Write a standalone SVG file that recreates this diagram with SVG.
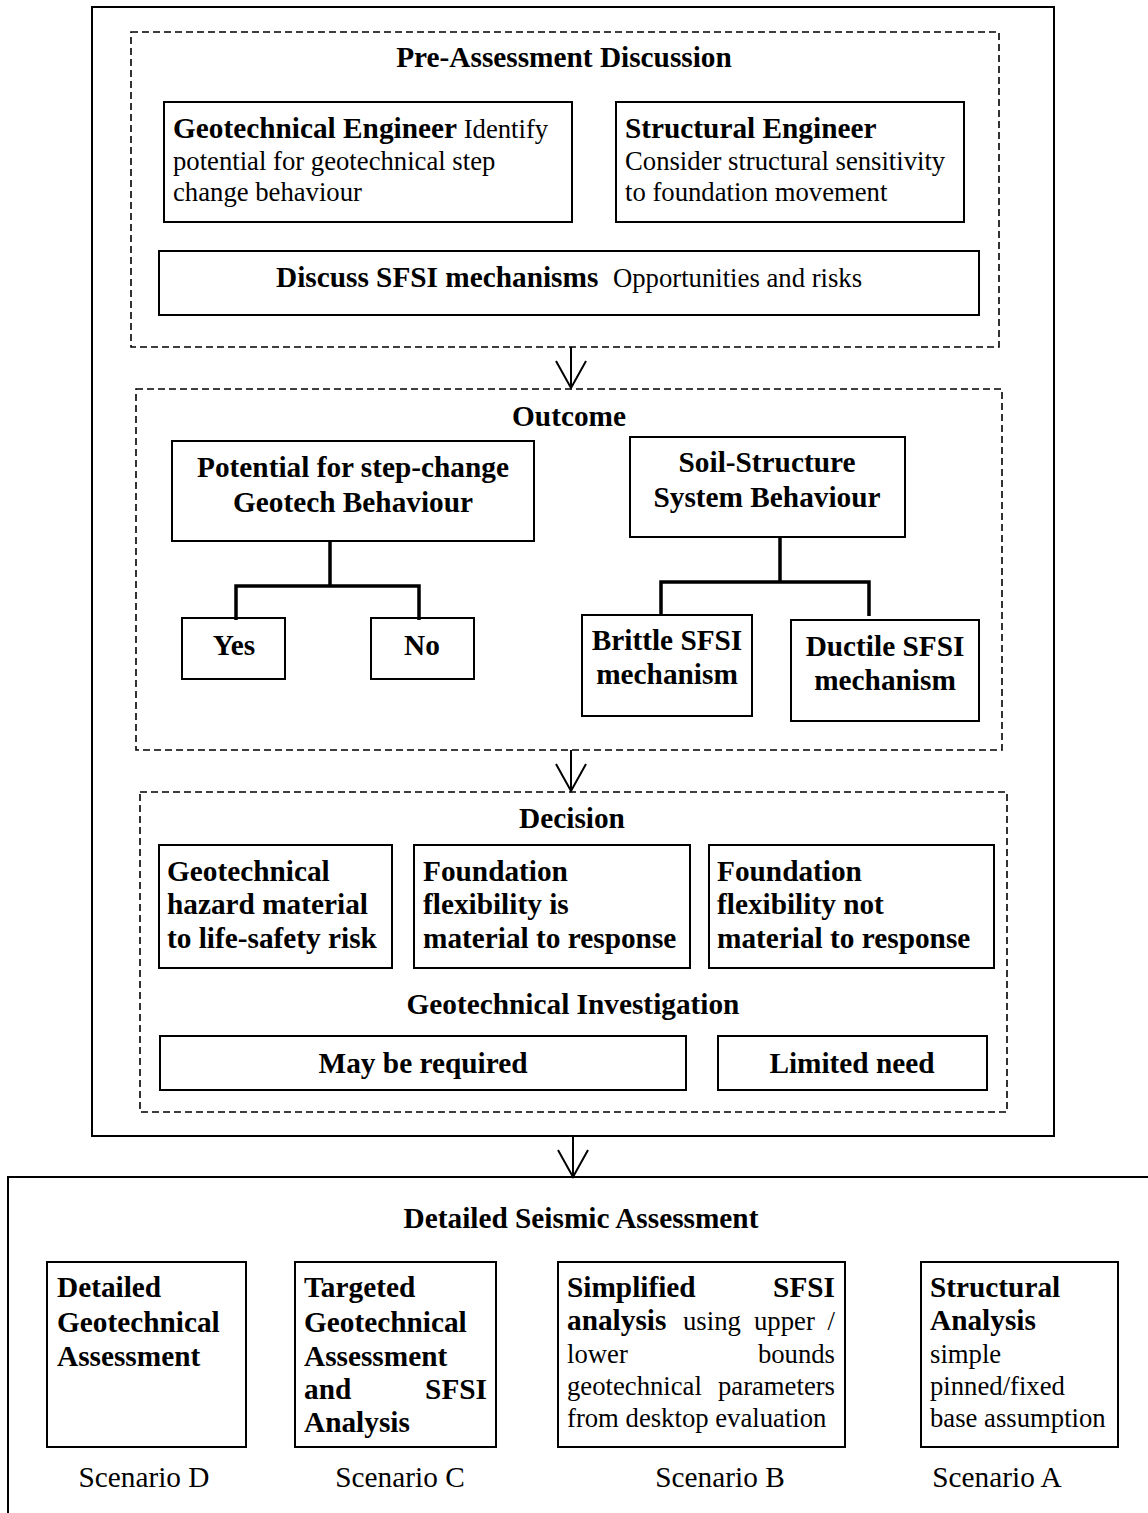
<svg xmlns="http://www.w3.org/2000/svg" width="1148" height="1513" viewBox="0 0 1148 1513">
<style>
text{font-family:"Liberation Serif","Times New Roman",serif;fill:#000}
.b{font-weight:bold;font-size:29.3px}
.r{font-weight:normal;font-size:26.7px}
.s{font-weight:normal;font-size:29.3px}
.c{text-anchor:middle}
.e{text-anchor:end}
.box{fill:#fff;stroke:#000;stroke-width:2}
.dash{fill:none;stroke:#000;stroke-width:1.6;stroke-dasharray:7 4}
.tree{fill:none;stroke:#000;stroke-width:3.5}
.arr{fill:none;stroke:#000;stroke-width:2}
</style>
<rect width="1148" height="1513" fill="#fff"/>
<g id="outer-frame"><rect x="92" y="7" width="962" height="1129" fill="none" stroke="#000" stroke-width="2"/></g>

<g id="pre-assessment">
<rect class="dash" x="131" y="32" width="868" height="315"/>
<text class="b c" x="564" y="67">Pre-Assessment Discussion</text>
</g>
<g id="geotech-engineer">
<rect class="box" x="164" y="102" width="408" height="120"/>
<text x="173" y="138"><tspan class="b">Geotechnical Engineer</tspan><tspan class="r"> Identify</tspan></text>
<text class="r" x="173" y="170">potential for geotechnical step</text>
<text class="r" x="173" y="201">change behaviour</text>
</g>
<g id="structural-engineer">
<rect class="box" x="616" y="102" width="348" height="120"/>
<text class="b" x="625" y="138">Structural Engineer</text>
<text class="r" x="625" y="170">Consider structural sensitivity</text>
<text class="r" x="625" y="201">to foundation movement</text>
</g>
<g id="discuss-sfsi">
<rect class="box" x="159" y="251" width="820" height="64"/>
<text x="276" y="287"><tspan class="b">Discuss SFSI mechanisms</tspan><tspan class="r" x="613">Opportunities and risks</tspan></text>
</g>

<g id="outcome">
<rect class="dash" x="136" y="389" width="866" height="361"/>
<text class="b c" x="569" y="426">Outcome</text>
</g>
<g id="potential-step-change">
<rect class="box" x="172" y="441" width="362" height="100"/>
<text class="b c" x="353" y="477">Potential for step-change</text>
<text class="b c" x="353" y="512">Geotech Behaviour</text>
</g>
<g id="yes"><rect class="box" x="182" y="618" width="103" height="61"/><text class="b c" x="234" y="655">Yes</text></g>
<g id="no"><rect class="box" x="371" y="618" width="103" height="61"/><text class="b c" x="422" y="655">No</text></g>
<g id="soil-structure">
<rect class="box" x="630" y="437" width="275" height="100"/>
<text class="b c" x="767" y="472">Soil-Structure</text>
<text class="b c" x="767" y="507">System Behaviour</text>
</g>
<g id="brittle"><rect class="box" x="582" y="615" width="170" height="101"/><text class="b c" x="667" y="650">Brittle SFSI</text><text class="b c" x="667" y="684">mechanism</text></g>
<g id="ductile"><rect class="box" x="791" y="620" width="188" height="101"/><text class="b c" x="885" y="656">Ductile SFSI</text><text class="b c" x="885" y="690">mechanism</text></g>

<g id="decision">
<rect class="dash" x="140" y="792" width="867" height="320"/>
<text class="b c" x="572" y="828">Decision</text>
<text class="b c" x="573" y="1014">Geotechnical Investigation</text>
</g>
<g id="geo-hazard"><rect class="box" x="159" y="845" width="233" height="123"/>
<text class="b" x="167" y="881">Geotechnical</text><text class="b" x="167" y="914">hazard material</text><text class="b" x="167" y="948">to life-safety risk</text></g>
<g id="flex-material"><rect class="box" x="414" y="845" width="276" height="123"/>
<text class="b" x="423" y="881">Foundation</text><text class="b" x="423" y="914">flexibility is</text><text class="b" x="423" y="948">material to response</text></g>
<g id="flex-not-material"><rect class="box" x="709" y="845" width="285" height="123"/>
<text class="b" x="717" y="881">Foundation</text><text class="b" x="717" y="914">flexibility not</text><text class="b" x="717" y="948">material to response</text></g>
<g id="may-be-required"><rect class="box" x="160" y="1036" width="526" height="54"/><text class="b c" x="423" y="1073">May be required</text></g>
<g id="limited-need"><rect class="box" x="718" y="1036" width="269" height="54"/><text class="b c" x="852" y="1073">Limited need</text></g>

<g id="detailed-seismic">
<path d="M1148,1177 H8 V1513" fill="none" stroke="#000" stroke-width="2"/>
<text class="b c" x="581" y="1228">Detailed Seismic Assessment</text>
</g>
<g id="scenario-d"><rect class="box" x="47" y="1262" width="199" height="185"/>
<text class="b" x="57" y="1297">Detailed</text><text class="b" x="57" y="1332">Geotechnical</text><text class="b" x="57" y="1366">Assessment</text>
<text class="s c" x="144" y="1487">Scenario D</text></g>
<g id="scenario-c"><rect class="box" x="295" y="1262" width="201" height="185"/>
<text class="b" x="304" y="1297">Targeted</text><text class="b" x="304" y="1332">Geotechnical</text><text class="b" x="304" y="1366">Assessment</text>
<text class="b" x="304" y="1399">and</text><text class="b e" x="487" y="1399">SFSI</text><text class="b" x="304" y="1432">Analysis</text>
<text class="s c" x="400" y="1487">Scenario C</text></g>
<g id="scenario-b"><rect class="box" x="558" y="1262" width="287" height="185"/>
<text class="b" x="567" y="1297">Simplified</text><text class="b e" x="835" y="1297">SFSI</text>
<text class="b" x="567" y="1330">analysis</text><text class="r" x="683" y="1330">using</text><text class="r" x="754" y="1330">upper</text><text class="r e" x="835" y="1330">/</text>
<text class="r" x="567" y="1363">lower</text><text class="r e" x="835" y="1363">bounds</text>
<text class="r" x="567" y="1395">geotechnical</text><text class="r e" x="835" y="1395">parameters</text>
<text class="r" x="567" y="1427">from desktop evaluation</text>
<text class="s c" x="720" y="1487">Scenario B</text></g>
<g id="scenario-a"><rect class="box" x="921" y="1262" width="197" height="185"/>
<text class="b" x="930" y="1297">Structural</text><text class="b" x="930" y="1330">Analysis</text>
<text class="r" x="930" y="1363">simple</text><text class="r" x="930" y="1395">pinned/fixed</text><text class="r" x="930" y="1427">base assumption</text>
<text class="s c" x="997" y="1487">Scenario A</text></g>

<g id="connectors">
<path class="tree" d="M330,541 V586 M236,620 V586 H419 V620"/>
<path class="tree" d="M780,537 V582 M661,616 V582 H869 V616"/>
<path class="arr" d="M571,347 V388 M556,361 L571,388 L586,361"/>
<path class="arr" d="M571,750 V791 M556,764 L571,791 L586,764"/>
<path class="arr" d="M573,1136 V1177 M558,1150 L573,1177 L588,1150"/>
</g>
</svg>
